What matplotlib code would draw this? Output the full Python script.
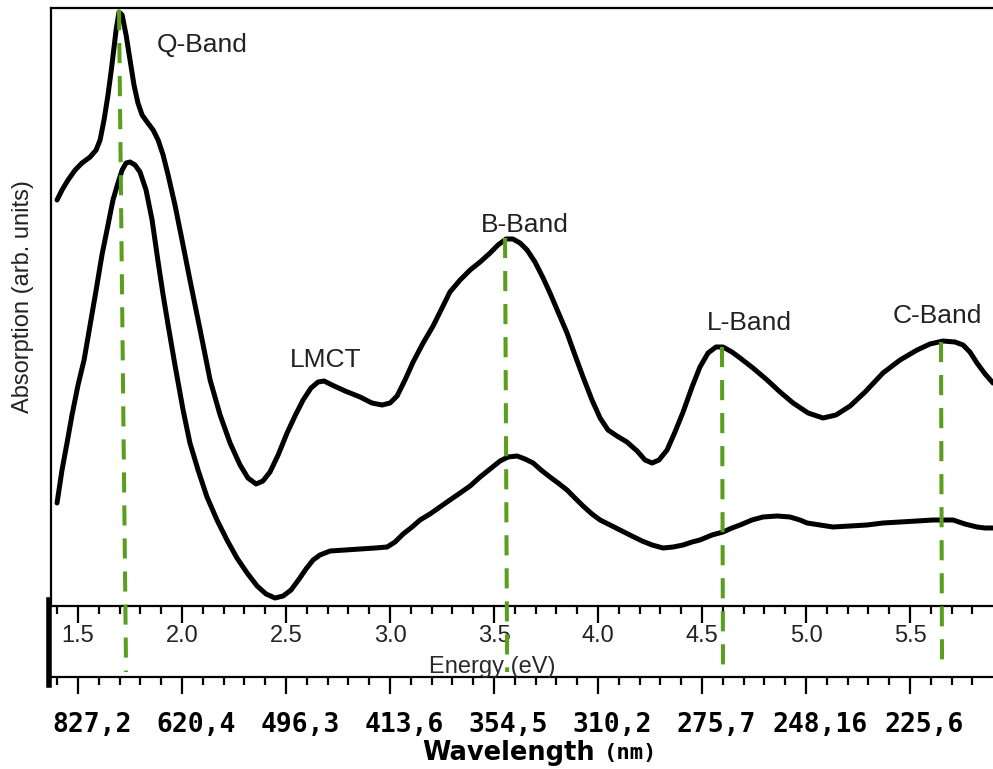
import numpy as np
import matplotlib
matplotlib.use("Agg")
import matplotlib.pyplot as plt
from matplotlib.ticker import MultipleLocator, FixedLocator, NullFormatter
from matplotlib.lines import Line2D
from matplotlib.transforms import ScaledTranslation, blended_transform_factory

# ---- spectra (energy in eV, absorption in arbitrary units) ----
upper_energy = [1.399, 1.423, 1.452, 1.486, 1.519, 1.558, 1.587, 1.606, 1.625, 1.644,
                1.663, 1.683, 1.697, 1.712, 1.731, 1.750, 1.769, 1.788, 1.808, 1.832,
                1.861, 1.885, 1.909, 1.933, 1.966, 2.000, 2.038, 2.087, 2.135, 2.183,
                2.231, 2.279, 2.317, 2.356, 2.389, 2.423, 2.462, 2.505, 2.543, 2.582,
                2.620, 2.654, 2.683, 2.721, 2.784, 2.856, 2.913, 2.962, 3.000, 3.034,
                3.072, 3.111, 3.159, 3.207, 3.250, 3.288, 3.337, 3.385, 3.433, 3.481,
                3.519, 3.558, 3.591, 3.625, 3.659, 3.697, 3.736, 3.769, 3.808, 3.851,
                3.889, 3.928, 3.971, 4.010, 4.048, 4.091, 4.139, 4.188, 4.226, 4.260,
                4.293, 4.332, 4.370, 4.409, 4.452, 4.490, 4.529, 4.567, 4.601, 4.644,
                4.683, 4.745, 4.813, 4.875, 4.938, 5.010, 5.082, 5.144, 5.212, 5.284,
                5.370, 5.452, 5.534, 5.596, 5.659, 5.716, 5.755, 5.788, 5.822, 5.861,
                5.899]
upper_absorption = [4.06, 4.16, 4.26, 4.36, 4.43, 4.49, 4.56, 4.66, 4.86, 5.11,
                    5.41, 5.76, 5.94, 5.91, 5.71, 5.46, 5.21, 5.03, 4.91, 4.84,
                    4.76, 4.66, 4.51, 4.31, 4.01, 3.66, 3.26, 2.76, 2.26, 1.91,
                    1.63, 1.41, 1.28, 1.22, 1.25, 1.34, 1.51, 1.73, 1.90, 2.06,
                    2.18, 2.24, 2.25, 2.21, 2.15, 2.09, 2.03, 2.01, 2.03, 2.10,
                    2.26, 2.44, 2.63, 2.80, 2.98, 3.14, 3.26, 3.36, 3.44, 3.53,
                    3.61, 3.67, 3.67, 3.63, 3.56, 3.44, 3.28, 3.13, 2.94, 2.73,
                    2.51, 2.29, 2.06, 1.88, 1.76, 1.70, 1.64, 1.55, 1.46, 1.43,
                    1.46, 1.56, 1.74, 1.94, 2.19, 2.39, 2.53, 2.59, 2.59, 2.54,
                    2.48, 2.38, 2.26, 2.14, 2.03, 1.93, 1.88, 1.91, 2.00, 2.14,
                    2.33, 2.46, 2.56, 2.62, 2.65, 2.64, 2.61, 2.54, 2.43, 2.32,
                    2.23]

lower_energy = [1.399, 1.423, 1.447, 1.471, 1.500, 1.529, 1.558, 1.587, 1.615, 1.644,
                1.668, 1.692, 1.712, 1.731, 1.750, 1.774, 1.798, 1.827, 1.856, 1.885,
                1.909, 1.933, 1.966, 2.005, 2.038, 2.077, 2.120, 2.168, 2.216, 2.264,
                2.313, 2.361, 2.404, 2.447, 2.486, 2.524, 2.563, 2.596, 2.630, 2.663,
                2.712, 2.784, 2.856, 2.928, 2.986, 3.024, 3.063, 3.106, 3.144, 3.192,
                3.240, 3.288, 3.337, 3.385, 3.433, 3.481, 3.529, 3.567, 3.611, 3.649,
                3.688, 3.726, 3.769, 3.808, 3.851, 3.889, 3.928, 3.971, 4.010, 4.058,
                4.115, 4.163, 4.212, 4.260, 4.313, 4.361, 4.409, 4.452, 4.490, 4.548,
                4.601, 4.644, 4.683, 4.740, 4.793, 4.861, 4.923, 4.971, 5.005, 5.067,
                5.130, 5.212, 5.293, 5.370, 5.452, 5.534, 5.611, 5.668, 5.707, 5.764,
                5.822, 5.861, 5.899]
lower_absorption = [1.03, 1.36, 1.63, 1.91, 2.21, 2.46, 2.81, 3.16, 3.51, 3.81,
                    4.06, 4.23, 4.36, 4.43, 4.44, 4.41, 4.34, 4.16, 3.86, 3.44,
                    3.11, 2.81, 2.41, 1.96, 1.63, 1.36, 1.09, 0.86, 0.66, 0.48,
                    0.33, 0.20, 0.12, 0.08, 0.10, 0.16, 0.27, 0.37, 0.46, 0.51,
                    0.55, 0.56, 0.57, 0.58, 0.59, 0.64, 0.72, 0.79, 0.86, 0.92,
                    0.99, 1.06, 1.13, 1.20, 1.29, 1.37, 1.45, 1.49, 1.50, 1.47,
                    1.43, 1.36, 1.29, 1.23, 1.16, 1.08, 1.00, 0.92, 0.86, 0.81,
                    0.75, 0.70, 0.65, 0.61, 0.58, 0.59, 0.61, 0.64, 0.66, 0.71,
                    0.74, 0.78, 0.81, 0.86, 0.89, 0.90, 0.89, 0.86, 0.83, 0.81,
                    0.79, 0.80, 0.81, 0.83, 0.84, 0.85, 0.86, 0.86, 0.86, 0.82,
                    0.79, 0.78, 0.78]

# ---- band markers ----
band_top_energy = [1.697, 3.553, 4.596, 5.649]
band_top_absorption = [5.96, 3.68, 2.59, 2.64]
band_base_energy = [1.731, 3.563, 4.601, 5.654]
band_base_absorption = -0.66

label_texts = ["Q-Band", "B-Band", "LMCT", "L-Band", "C-Band"]
label_energy = [2.096, 3.649, 2.692, 4.726, 5.630]
label_absorption = [5.54, 3.74, 2.39, 2.76, 2.83]

# ---- axis ticks ----
energy_ticks = [1.5, 2.0, 2.5, 3.0, 3.5, 4.0, 4.5, 5.0, 5.5]
energy_tick_labels = ["1.5", "2.0", "2.5", "3.0", "3.5", "4.0", "4.5", "5.0", "5.5"]
wavelength_tick_labels = ["827,2", "620,4", "496,3", "413,6", "354,5",
                          "310,2", "275,7", "248,16", "225,6"]

W, H = 993, 769
fig = plt.figure(figsize=(W / 100, H / 100), dpi=100)
fig.patch.set_facecolor("white")


def fx(px):
    return px / W


def fy(py):
    return 1 - py / H


ax = fig.add_axes([fx(51), fy(606), fx(993) - fx(51), fy(8) - fy(606)])
ax.set_xlim(1.370, 5.899)
ax.set_ylim(0, 5.98)

sans = "Liberation Sans"
txt_col = "#222222"

ax.plot(upper_energy, upper_absorption, color="black", lw=3.6,
        solid_joinstyle="round", solid_capstyle="round", zorder=2)
ax.plot(lower_energy, lower_absorption, color="black", lw=3.6,
        solid_joinstyle="round", solid_capstyle="round", zorder=2)

green = "#5a9e1e"
for et, at, eb in zip(band_top_energy, band_top_absorption, band_base_energy):
    ax.plot([et, eb], [at, band_base_absorption], color=green, lw=2.9,
            dashes=(5, 3.2), clip_on=False, zorder=4)

for t, e, a in zip(label_texts, label_energy, label_absorption):
    ax.text(e, a, t, ha="center", va="baseline", fontsize=19,
            family=sans, color=txt_col, zorder=5)

# spines
ax.spines["right"].set_visible(False)
for s in ("left", "top", "bottom"):
    ax.spines[s].set_linewidth(1.6)
    ax.spines[s].set_color("black")
ax.set_yticks([])

ax.xaxis.set_major_locator(FixedLocator(energy_ticks))
ax.set_xticklabels(energy_tick_labels)
ax.xaxis.set_minor_locator(MultipleLocator(0.1))
ax.tick_params(axis="x", which="major", direction="out", length=12, width=1.6,
               labelsize=17, pad=2, colors="black", labelcolor=txt_col)
ax.tick_params(axis="x", which="minor", direction="out", length=6, width=1.6)
for lab in ax.get_xticklabels():
    lab.set_family(sans)

# wavelength scale beneath the energy scale
sec = ax.secondary_xaxis(-(677 - 606) / (606 - 8))
sec.xaxis.set_major_locator(FixedLocator(energy_ticks))
sec.xaxis.set_minor_locator(MultipleLocator(0.1))
sec.xaxis.set_major_formatter(NullFormatter())
sec.tick_params(axis="x", which="major", direction="out", length=12.5, width=1.6)
sec.tick_params(axis="x", which="minor", direction="out", length=6, width=1.6)
sec.spines["bottom"].set_linewidth(1.6)

trans = blended_transform_factory(ax.transData, fig.transFigure) + \
    ScaledTranslation(14 / 100, 0, fig.dpi_scale_trans)
for e, lab in zip(energy_ticks, wavelength_tick_labels):
    ax.text(e, fy(732), lab, transform=trans, ha="center", va="baseline",
            fontsize=19, family="DejaVu Sans Mono", fontweight="bold",
            color="black", clip_on=False)

# thick bar at the left of the scale block
fig.add_artist(Line2D([fx(49), fx(49)], [fy(600), fy(685)], lw=4,
                      color="black", transform=fig.transFigure))

# axis titles
fig.text(fx(492), fy(673), "Energy (eV)", ha="center", va="baseline",
         fontsize=17, family=sans, color="#2a2a2a")
fig.text(fx(595), fy(760), "Wavelength", ha="right", va="baseline",
         fontsize=18.5, family="DejaVu Sans", fontweight="bold", color="black")
fig.text(fx(604), fy(759), "(nm)", ha="left", va="baseline",
         fontsize=16, family="DejaVu Sans Mono", fontweight="bold", color="black")
fig.text(fx(23), fy(297), "Absorption (arb. units)", rotation=90,
         ha="center", va="center", fontsize=17, family=sans, color=txt_col)

fig.savefig("out.png", dpi=100, facecolor="white")
